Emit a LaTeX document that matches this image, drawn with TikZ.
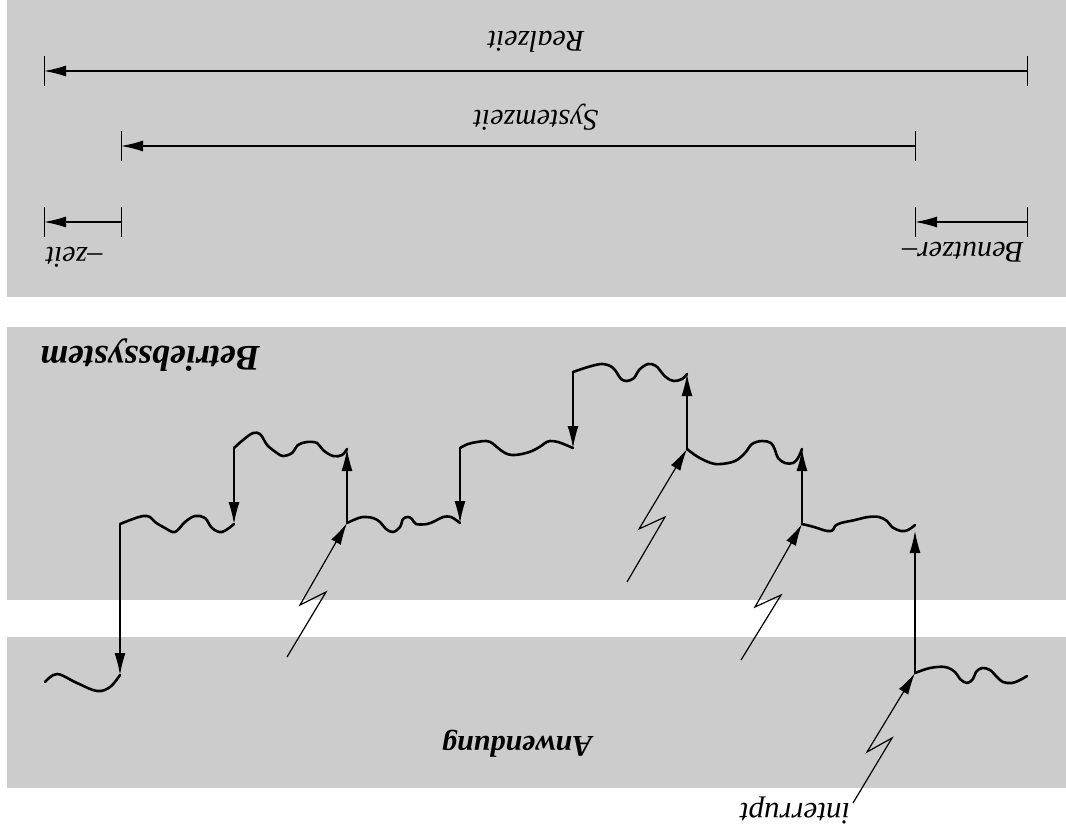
\documentclass[tikz,border=0pt]{standalone}
\usepackage{fontspec}
\setmainfont{Liberation Serif}
\usetikzlibrary{arrows.meta,calc}

\definecolor{panelgray}{RGB}{204,204,204}

\tikzset{
  panel/.style={fill=panelgray, draw=none},
  thread/.style={line width=2.6pt, line cap=round, line join=round},
  hop/.style={line width=1.3pt, -{Latex[length=22pt,width=11pt]}},
  bolt/.style={line width=1.2pt, line join=miter, -{Latex[length=22pt,width=11pt]}},
  span/.style={line width=1.4pt, -{Latex[length=22pt,width=11pt]}},
  tick/.style={line width=1pt},
  lbl/.style={rotate=180, inner sep=0pt, font=\fontsize{30}{36}\selectfont\itshape},
  area/.style={rotate=180, inner sep=0pt, font=\fontsize{36}{42}\selectfont\bfseries\itshape},
}

\begin{document}
\begin{tikzpicture}[x=1pt, y=-1pt]
\useasboundingbox (0,0) rectangle (1066,833);

% three shaded bands
\fill[panel] (7,0) rectangle (1066,297);
\fill[panel] (7,327) rectangle (1066,600);
\fill[panel] (7,637) rectangle (1066,788);

% ---------- time spans ----------
\coordinate (rL) at (44,71);   \coordinate (rR) at (1027,71);
\coordinate (sL) at (121,146); \coordinate (sR) at (915,146);
\coordinate (zL) at (44,222);  \coordinate (zR) at (121,222);
\coordinate (bL) at (915,222); \coordinate (bR) at (1027,222);

\foreach \p in {rL,rR,sL,sR,zL,zR,bL,bR}
  \draw[tick] ($(\p)+(0,-15)$) -- ($(\p)+(0,15)$);

\draw[span] (rR) -- (rL);
\draw[span] (sR) -- (sL);
\draw[span] (zR) -- (zL);
\draw[span] (bR) -- (bL);

\node[lbl] (realzeit) at (536,42) {Realzeit};
\node[lbl] (systemzeit) at (536,117) {Systemzeit};
\node[lbl] (zeit) at (74,257) {\textendash zeit};
\node[lbl] (benutzer) at (963,252) {Benutzer\textendash};

% ---------- band labels ----------
\node[area] (os) at (150,355) {Betriebssystem};
\node[area, font=\fontsize{30}{36}\selectfont\bfseries\itshape] (app) at (517,744) {Anwendung};
\node[lbl, font=\fontsize{31}{37}\selectfont\itshape] (irq) at (795,810) {interrupt};

% ---------- junction points ----------
\coordinate (a0) at (120,675);
\coordinate (a1) at (120,524);
\coordinate (b0) at (234,524);
\coordinate (b1) at (234,448);
\coordinate (c0) at (347,449);
\coordinate (c1) at (347,523);
\coordinate (d0) at (460,523);
\coordinate (d1) at (460,448);
\coordinate (e0) at (573,448);
\coordinate (e1) at (573,372);
\coordinate (f0) at (687,374);
\coordinate (f1) at (687,449);
\coordinate (g0) at (802,449);
\coordinate (g1) at (802,524);
\coordinate (h0) at (915,531);
\coordinate (h1) at (915,673);

% ---------- execution thread ----------
\draw[thread] plot[smooth, tension=0.6] coordinates {
  (45,682) (57,674) (77,683) (97,691) (110,687) (a0)};
\draw[thread] plot[smooth, tension=0.6] coordinates {
  (a1) (133,519) (143,516) (150,517) (155,522) (165,528) (175,532)
  (185,522) (195,516) (205,518) (212,528) (222,532) (b0)};
\draw[thread] plot[smooth, tension=0.6] coordinates {
  (b1) (243,440) (253,433) (260,434) (264,440) (268,446) (277,453)
  (283,456) (292,453) (298,445) (307,442) (317,443) (323,450)
  (333,456) (342,455) (c0)};
\draw[thread] plot[smooth, tension=0.6] coordinates {
  (c1) (356,519) (363,517) (373,518) (380,522) (386,529) (393,532)
  (400,527) (403,519) (408,517) (412,519) (416,524) (427,524)
  (435,521) (443,517) (451,517) (d0)};
\draw[thread] plot[smooth, tension=0.6] coordinates {
  (d1) (468,444) (477,442) (486,441) (492,443) (498,448) (505,453)
  (512,455) (522,454) (532,451) (541,446) (545,443) (550,441)
  (558,442) (566,445) (e0)};
\draw[thread] plot[smooth, tension=0.6] coordinates {
  (e1) (588,367) (602,364) (612,367) (617,373) (621,379) (627,381)
  (634,378) (639,370) (648,364) (656,366) (662,373) (667,378)
  (674,381) (682,379) (f0)};
\draw[thread] plot[smooth, tension=0.6] coordinates {
  (f1) (698,457) (711,463) (721,464) (735,461) (745,453) (752,444)
  (762,441) (771,443) (775,450) (778,458) (785,463) (793,463)
  (798,458) (g0)};
\draw[thread] plot[smooth, tension=0.6] coordinates {
  (g1) (814,527) (827,531) (833,530) (835,526) (841,523) (855,520)
  (868,517) (879,517) (887,521) (892,527) (901,531) (908,530) (915,525)};
\draw[thread] plot[smooth, tension=0.6] coordinates {
  (h1) (930,668) (945,667) (955,672) (960,679) (967,683) (973,679)
  (976,672) (982,668) (990,670) (997,677) (1003,682) (1012,683)
  (1020,680) (1027,676)};

% ---------- mode switches ----------
\draw[hop] (a1) -- (a0);
\draw[hop] (b1) -- (b0);
\draw[hop] (c1) -- (c0);
\draw[hop] (d1) -- (d0);
\draw[hop] (e1) -- (e0);
\draw[hop] (f1) -- (f0);
\draw[hop] (g1) -- (g0);
\draw[hop] (h1) -- (h0);

% ---------- interrupt bolts ----------
\coordinate (ia) at (287,657);
\coordinate (ib) at (627,582);
\coordinate (ic) at (741,660);
\coordinate (id) at (853,803);
\draw[bolt] (ia) -- (326,592) -- (300,605) -- (c1);
\draw[bolt] (ib) -- (665,517) -- (639,529) -- (f1);
\draw[bolt] (ic) -- (781,595) -- (755,607) -- (g1);
\draw[bolt] (id) -- (892,738) -- (867,752) -- (h1);

\end{tikzpicture}
\end{document}
